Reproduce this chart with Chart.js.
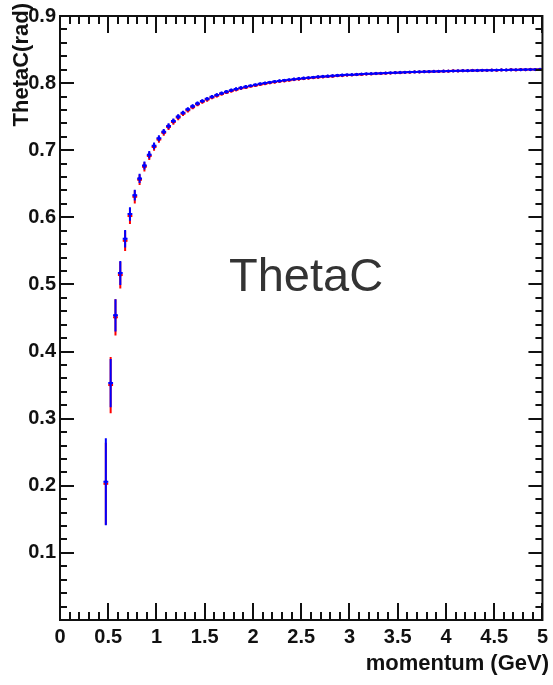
<!DOCTYPE html>
<html>
<head>
<meta charset="utf-8">
<script src="https://cdn.jsdelivr.net/npm/chart.js@4.4.1/dist/chart.umd.min.js"></script>
<style>
  html, body { margin: 0; padding: 0; background: #fff; }
  canvas { display: block; }
</style>
</head>
<body>
<canvas id="thetaC" width="553" height="685"></canvas>
<script>
// bin centres (GeV)
const momentum = [
  0.475, 0.525, 0.575, 0.625, 0.675, 0.725, 0.775, 0.825, 0.875, 0.925,
  0.975, 1.025, 1.075, 1.125, 1.175, 1.225, 1.275, 1.325, 1.375, 1.425,
  1.475, 1.525, 1.575, 1.625, 1.675, 1.725, 1.775, 1.825, 1.875, 1.925,
  1.975, 2.025, 2.075, 2.125, 2.175, 2.225, 2.275, 2.325, 2.375, 2.425,
  2.475, 2.525, 2.575, 2.625, 2.675, 2.725, 2.775, 2.825, 2.875, 2.925,
  2.975, 3.025, 3.075, 3.125, 3.175, 3.225, 3.275, 3.325, 3.375, 3.425,
  3.475, 3.525, 3.575, 3.625, 3.675, 3.725, 3.775, 3.825, 3.875, 3.925,
  3.975, 4.025, 4.075, 4.125, 4.175, 4.225, 4.275, 4.325, 4.375, 4.425,
  4.475, 4.525, 4.575, 4.625, 4.675, 4.725, 4.775, 4.825, 4.875, 4.925,
  4.975
];
const binHalfWidth = 0.025;

// blue series, ThetaC (rad)
const thetaBlue = [
  0.2060, 0.3530, 0.4540, 0.5170, 0.5680, 0.6050, 0.6330, 0.6580, 0.6772, 0.6933,
  0.7065, 0.7178, 0.7277, 0.7361, 0.7436, 0.7502, 0.7558, 0.7610, 0.7656, 0.7697,
  0.7733, 0.7766, 0.7797, 0.7824, 0.7849, 0.7872, 0.7893, 0.7912, 0.7930, 0.7946,
  0.7961, 0.7975, 0.7989, 0.8001, 0.8012, 0.8023, 0.8033, 0.8042, 0.8050, 0.8059,
  0.8066, 0.8074, 0.8080, 0.8087, 0.8093, 0.8099, 0.8104, 0.8109, 0.8114, 0.8119,
  0.8123, 0.8126, 0.8130, 0.8134, 0.8138, 0.8141, 0.8144, 0.8147, 0.8150, 0.8153,
  0.8156, 0.8159, 0.8161, 0.8164, 0.8166, 0.8168, 0.8170, 0.8172, 0.8174, 0.8176,
  0.8178, 0.8180, 0.8182, 0.8183, 0.8185, 0.8186, 0.8188, 0.8189, 0.8191, 0.8192,
  0.8193, 0.8194, 0.8196, 0.8197, 0.8198, 0.8199, 0.8200, 0.8201, 0.8202, 0.8203,
  0.8204
];
const errBlue = [
  0.065, 0.036, 0.024, 0.018, 0.013, 0.010, 0.008, 0.007, 0.006, 0.0055,
  0.005, 0.0045, 0.004, 0.004, 0.0035, 0.0035, 0.003, 0.003, 0.003, 0.003,
  0.0025, 0.0025, 0.0025, 0.0025, 0.0025, 0.0025, 0.0025, 0.0025, 0.0025, 0.0025,
  0.002, 0.002, 0.002, 0.002, 0.002, 0.002, 0.002, 0.002, 0.002, 0.002,
  0.002, 0.002, 0.002, 0.002, 0.002, 0.002, 0.002, 0.002, 0.002, 0.002,
  0.0015, 0.0015, 0.0015, 0.0015, 0.0015, 0.0015, 0.0015, 0.0015, 0.0015, 0.0015,
  0.0015, 0.0015, 0.0015, 0.0015, 0.0015, 0.0015, 0.0015, 0.0015, 0.0015, 0.0015,
  0.0015, 0.0015, 0.0015, 0.0015, 0.0015, 0.0015, 0.0015, 0.0015, 0.0015, 0.0015,
  0.0015, 0.0015, 0.0015, 0.0015, 0.0015, 0.0015, 0.0015, 0.0015, 0.0015, 0.0015,
  0.0015
];

// red series, ThetaC (rad)
const thetaRed = [
  0.2030, 0.3500, 0.4510, 0.5140, 0.5650, 0.6020, 0.6305, 0.6560, 0.6752, 0.6915,
  0.7048, 0.7160, 0.7260, 0.7345, 0.7420, 0.7487, 0.7544, 0.7596, 0.7642, 0.7684,
  0.7721, 0.7754, 0.7786, 0.7812, 0.7839, 0.7861, 0.7884, 0.7902, 0.7922, 0.7936,
  0.7953, 0.7966, 0.7981, 0.7992, 0.8005, 0.8015, 0.8026, 0.8034, 0.8043, 0.8052,
  0.8060, 0.8067, 0.8075, 0.8080, 0.8088, 0.8093, 0.8099, 0.8103, 0.8110, 0.8113,
  0.8119, 0.8121, 0.8127, 0.8130, 0.8135, 0.8137, 0.8142, 0.8144, 0.8148, 0.8150,
  0.8155, 0.8156, 0.8161, 0.8162, 0.8166, 0.8166, 0.8171, 0.8170, 0.8174, 0.8174,
  0.8178, 0.8178, 0.8183, 0.8181, 0.8186, 0.8184, 0.8189, 0.8187, 0.8192, 0.8190,
  0.8195, 0.8192, 0.8197, 0.8195, 0.8200, 0.8197, 0.8202, 0.8199, 0.8204, 0.8201,
  0.8205
];
const errRed = [
  0.061, 0.042, 0.027, 0.020, 0.015, 0.012, 0.010, 0.008, 0.007, 0.006,
  0.0055, 0.005, 0.0045, 0.0045, 0.004, 0.004, 0.0035, 0.0035, 0.003, 0.003,
  0.003, 0.003, 0.0025, 0.0025, 0.0025, 0.0025, 0.0025, 0.0025, 0.0025, 0.0025,
  0.002, 0.002, 0.002, 0.002, 0.002, 0.002, 0.002, 0.002, 0.002, 0.002,
  0.002, 0.002, 0.002, 0.002, 0.002, 0.002, 0.002, 0.002, 0.002, 0.002,
  0.0015, 0.0015, 0.0015, 0.0015, 0.0015, 0.0015, 0.0015, 0.0015, 0.0015, 0.0015,
  0.0015, 0.0015, 0.0015, 0.0015, 0.0015, 0.0015, 0.0015, 0.0015, 0.0015, 0.0015,
  0.0015, 0.0015, 0.0015, 0.0015, 0.0015, 0.0015, 0.0015, 0.0015, 0.0015, 0.0015,
  0.0015, 0.0015, 0.0015, 0.0015, 0.0015, 0.0015, 0.0015, 0.0015, 0.0015, 0.0015,
  0.0015
];

const FONT = '"Liberation Sans", Arial, Helvetica, sans-serif';

// error bars drawn under each dataset's markers
const errorBars = {
  id: 'errorBars',
  beforeDatasetDraw(chart, args) {
    const ds = chart.data.datasets[args.index];
    const { ctx, scales: { x, y } } = chart;
    ctx.save();
    ctx.strokeStyle = ds.borderColor;
    ctx.lineWidth = 2;
    ctx.beginPath();
    ds.data.forEach((pt, i) => {
      const px = x.getPixelForValue(pt.x);
      const py = y.getPixelForValue(pt.y);
      ctx.moveTo(px, y.getPixelForValue(pt.y - ds.yErr[i]));
      ctx.lineTo(px, y.getPixelForValue(pt.y + ds.yErr[i]));
      ctx.moveTo(x.getPixelForValue(pt.x - binHalfWidth), py);
      ctx.lineTo(x.getPixelForValue(pt.x + binHalfWidth), py);
    });
    ctx.stroke();
    ctx.restore();
  }
};

// ROOT-like frame with inward ticks on all sides, plus texts
const frame = {
  id: 'frame',
  afterDraw(chart) {
    const { ctx, chartArea: a, scales: { x, y } } = chart;
    ctx.save();
    ctx.strokeStyle = '#111';
    ctx.lineWidth = 2;
    ctx.strokeRect(a.left, a.top, a.right - a.left, a.bottom - a.top);
    ctx.beginPath();
    for (let i = 0; i <= 50; i++) {
      const px = Math.round(x.getPixelForValue(i / 10));
      const len = i % 5 === 0 ? 17 : 8;
      ctx.moveTo(px, a.bottom); ctx.lineTo(px, a.bottom - len);
      ctx.moveTo(px, a.top); ctx.lineTo(px, a.top + len);
    }
    for (let i = 0; i <= 45; i++) {
      const py = Math.round(y.getPixelForValue(i / 50));
      const len = i % 5 === 0 ? 14 : 7;
      ctx.moveTo(a.left, py); ctx.lineTo(a.left + len, py);
      ctx.moveTo(a.right, py); ctx.lineTo(a.right - len, py);
    }
    ctx.stroke();

    ctx.fillStyle = '#111';
    ctx.font = 'bold 22px ' + FONT;
    // x axis title
    ctx.textAlign = 'right';
    ctx.textBaseline = 'middle';
    ctx.fillText('momentum (GeV)', 549, 664);
    // y axis title
    ctx.translate(22, 3);
    ctx.rotate(-Math.PI / 2);
    ctx.fillText('ThetaC(rad)', 0, 0);
    ctx.setTransform(1, 0, 0, 1, 0, 0);

    // histogram title
    ctx.fillStyle = '#333';
    ctx.font = '47px ' + FONT;
    ctx.textAlign = 'left';
    ctx.textBaseline = 'alphabetic';
    ctx.fillText('ThetaC', 229, 291);
    ctx.restore();
  }
};

const tickFont = { family: FONT, size: 20, weight: 'bold' };

new Chart(document.getElementById('thetaC'), {
  type: 'scatter',
  data: {
    datasets: [
      {
        label: 'blue',
        data: momentum.map((p, i) => ({ x: p, y: thetaBlue[i] })),
        yErr: errBlue,
        borderColor: '#0000ff',
        backgroundColor: '#0000ff',
        pointRadius: 1.6,
        pointBorderWidth: 0
      },
      {
        label: 'red',
        data: momentum.map((p, i) => ({ x: p, y: thetaRed[i] })),
        yErr: errRed,
        borderColor: '#ff0000',
        backgroundColor: '#ff0000',
        pointRadius: 1.6,
        pointBorderWidth: 0
      }
    ]
  },
  options: {
    responsive: false,
    animation: false,
    layout: { padding: { top: 14, right: 8, left: 0, bottom: 0 } },
    plugins: { legend: { display: false }, tooltip: { enabled: false } },
    scales: {
      x: {
        type: 'linear',
        min: 0,
        max: 5,
        afterFit(s) { s.height = 65; },
        grid: { display: false, drawTicks: false },
        border: { display: false },
        ticks: {
          stepSize: 0.5,
          font: tickFont,
          color: '#111',
          padding: 5,
          maxRotation: 0,
          autoSkip: false,
          callback: v => String(Number(v.toFixed(1)))
        }
      },
      y: {
        min: 0,
        max: 0.9,
        afterFit(s) { s.width = 60; },
        grid: { display: false, drawTicks: false },
        border: { display: false },
        ticks: {
          stepSize: 0.1,
          font: tickFont,
          color: '#111',
          padding: 4,
          callback: v => (v < 0.05 ? '' : v.toFixed(1))
        }
      }
    }
  },
  plugins: [errorBars, frame]
});
</script>
</body>
</html>
